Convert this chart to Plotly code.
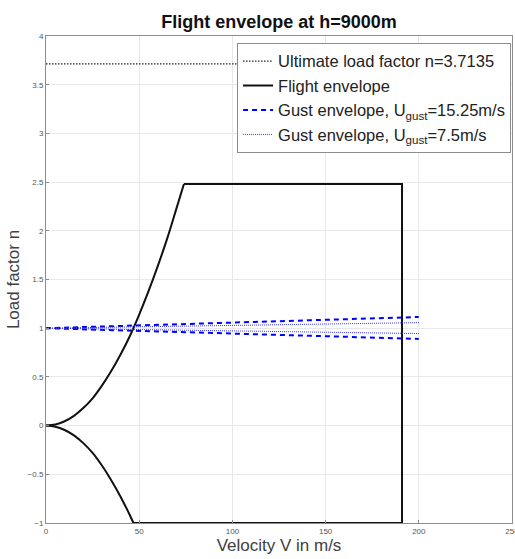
import plotly.graph_objects as go

# Ultimate load factor
ult_n = 3.7135
ult_v = [0, 191]

# Flight envelope
pos_v = [0, 5, 10, 15, 20, 25, 30, 35, 40, 45, 50, 55, 60, 65, 70, 74]
pos_n = [0, 0.011, 0.045, 0.10, 0.18, 0.28, 0.41, 0.56, 0.73, 0.92, 1.14, 1.38, 1.64, 1.92, 2.23, 2.48]
box_v = [74, 191, 191, 46.9]
box_n = [2.48, 2.48, -1.0, -1.0]
neg_v = [46.9, 45, 40, 35, 30, 25, 20, 15, 10, 5, 0]
neg_n = [-1.0, -0.92, -0.73, -0.56, -0.41, -0.28, -0.18, -0.10, -0.045, -0.011, 0]

# Gust envelopes
gust1_v = [0, 200, None, 0, 200]
gust1_n = [1, 1.115, None, 1, 0.89]
gust2_v = [0, 200, None, 0, 200]
gust2_n = [1, 1.057, None, 1, 0.945]

FONT = "Liberation Sans, Arial, sans-serif"
ENV = dict(color="#111111", width=2)

fig = go.Figure()
fig.add_trace(go.Scatter(x=ult_v, y=[ult_n, ult_n], mode="lines",
                         line=dict(color="#222222", width=1.2, dash="1.5px,1.5px"),
                         name="Ultimate load factor n=3.7135"))
fig.add_trace(go.Scatter(x=pos_v, y=pos_n, mode="lines", line=dict(shape="spline", smoothing=1, **ENV),
                         name="Flight envelope", legendgroup="env"))
fig.add_trace(go.Scatter(x=box_v, y=box_n, mode="lines", line=ENV,
                         name="Flight envelope", legendgroup="env", showlegend=False))
fig.add_trace(go.Scatter(x=neg_v, y=neg_n, mode="lines", line=dict(shape="spline", smoothing=1, **ENV),
                         name="Flight envelope", legendgroup="env", showlegend=False))
fig.add_trace(go.Scatter(x=gust1_v, y=gust1_n, mode="lines",
                         line=dict(color="#0000ff", width=2, dash="5px,4px"),
                         name="Gust envelope, U<sub>gust</sub>=15.25m/s"))
fig.add_trace(go.Scatter(x=gust2_v, y=gust2_n, mode="lines",
                         line=dict(color="#3a3aff", width=1, dash="1px,1px"),
                         name="Gust envelope, U<sub>gust</sub>=7.5m/s"))

axis_common = dict(showgrid=True, gridcolor="#e8e8e8", gridwidth=1,
                   showline=True, linecolor="#8c8c8c", linewidth=1, mirror=True,
                   zeroline=False, ticks="inside", ticklen=3, tickcolor="#8c8c8c",
                   ticklabeloverflow="allow", automargin=False,
                   tickfont=dict(size=8, color="#555555", family=FONT))

fig.update_layout(
    width=515, height=559,
    margin=dict(l=46, r=3, t=36, b=36),
    paper_bgcolor="white", plot_bgcolor="white",
    title=dict(text="<b>Flight envelope at h=9000m</b>", x=279 / 515, xanchor="center",
               y=1 - 22 / 559, yanchor="middle",
               font=dict(size=18, color="#111111", family=FONT)),
    font=dict(family=FONT),
    xaxis=dict(range=[0, 250], tickvals=[0, 50, 100, 150, 200, 250],
               title=dict(text="Velocity V in m/s", standoff=4,
                          font=dict(size=17, color="#404040", family=FONT)),
               **axis_common),
    yaxis=dict(range=[-1, 4], dtick=0.5,
               title=dict(text="Load factor n", standoff=3,
                          font=dict(size=17, color="#404040", family=FONT)),
               **axis_common),
    legend=dict(x=0.41, y=0.986, xanchor="left", yanchor="top",
                bgcolor="white", bordercolor="#8c8c8c", borderwidth=1,
                font=dict(size=16.5, color="#222222", family=FONT),
                tracegroupgap=0, itemwidth=30),
    showlegend=True,
)

fig.write_html("out.html")
